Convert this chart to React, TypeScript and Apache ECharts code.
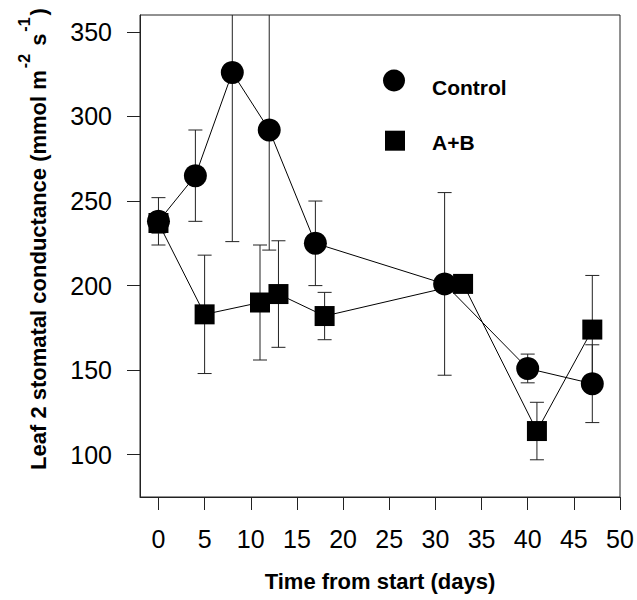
import { useEffect, useRef } from 'react';
import * as echarts from 'echarts';

// Leaf 2 stomatal conductance over time, mean ± error
const controlDays = [0, 4, 8, 12, 17, 31, 40, 47];
const controlMean = [238, 265, 326, 292, 225, 201, 151, 142];
const controlErr = [14, 27, 100, 71, 25, 54, 8.5, 23];

const abDays = [0, 5, 11, 13, 18, 33, 41, 47];
const abMean = [237, 183, 190, 195, 182, 201, 114, 174];
const abErr = [6, 35, 34, 31.5, 14, 3, 17, 32];

const xTicks = [0, 5, 10, 15, 20, 25, 30, 35, 40, 45, 50];
const yTicks = [100, 150, 200, 250, 300, 350];

const seriesNames = ['Control', 'A+B'];

const FONT = '"Liberation Sans", Arial, Helvetica, sans-serif';

function errorBars(name: string, days: number[], mean: number[], err: number[]) {
  return {
    type: 'custom',
    name,
    clip: true,
    z: 1,
    silent: true,
    data: days.map((d, i) => [d, mean[i] - err[i], mean[i] + err[i]]),
    encode: { x: 0, y: [1, 2] },
    renderItem: (_params: any, api: any) => {
      const x = api.value(0);
      const lo = api.coord([x, api.value(1)]);
      const hi = api.coord([x, api.value(2)]);
      const cap = 7;
      const style = { stroke: '#222', lineWidth: 1, fill: 'none' };
      return {
        type: 'group',
        children: [
          { type: 'line', shape: { x1: lo[0], y1: lo[1], x2: hi[0], y2: hi[1] }, style },
          { type: 'line', shape: { x1: lo[0] - cap, y1: lo[1], x2: lo[0] + cap, y2: lo[1] }, style },
          { type: 'line', shape: { x1: hi[0] - cap, y1: hi[1], x2: hi[0] + cap, y2: hi[1] }, style },
        ],
      };
    },
  };
}

function meanLine(name: string, days: number[], mean: number[], symbol: string, size: number) {
  return {
    type: 'line',
    name,
    z: 3,
    data: days.map((d, i) => [d, mean[i]]),
    symbol,
    symbolSize: size,
    showAllSymbol: true,
    itemStyle: { color: '#000' },
    lineStyle: { color: '#000', width: 1 },
  };
}

const legendLabel = (text: string, y: number) => ({
  type: 'text',
  x: 432,
  y,
  style: {
    text,
    fontFamily: FONT,
    fontSize: 21,
    fontWeight: 'bold',
    fill: '#000',
    align: 'left',
    verticalAlign: 'middle',
  },
});

export default function App() {
  const ref = useRef<HTMLDivElement>(null);

  useEffect(() => {
    if (!ref.current) return;
    const chart = echarts.init(ref.current, undefined, { renderer: 'svg' });
    chart.setOption({
      animation: false,
      backgroundColor: '#fff',
      textStyle: { fontFamily: FONT },
      grid: {
        left: 140,
        top: 15,
        width: 480,
        height: 482,
        show: true,
        borderColor: '#222',
        borderWidth: 1,
        backgroundColor: 'transparent',
      },
      xAxis: {
        type: 'value',
        min: -2,
        max: 50,
        name: 'Time from start (days)',
        nameLocation: 'middle',
        nameGap: 73,
        nameTextStyle: { fontFamily: FONT, fontSize: 22, fontWeight: 'bold', color: '#000' },
        axisLine: { show: true, onZero: false, lineStyle: { color: '#222', width: 1 } },
        axisTick: { show: true, length: 13, customValues: xTicks, lineStyle: { color: '#222' } },
        axisLabel: { customValues: xTicks, margin: 29, fontFamily: FONT, fontSize: 25, color: '#000' },
        splitLine: { show: false },
      },
      yAxis: {
        type: 'value',
        min: 75,
        max: 360,
        axisLine: { show: true, onZero: false, lineStyle: { color: '#222', width: 1 } },
        axisTick: { show: true, length: 13, customValues: yTicks, lineStyle: { color: '#222' } },
        axisLabel: { customValues: yTicks, margin: 28, fontFamily: FONT, fontSize: 25, color: '#000' },
        splitLine: { show: false },
      },
      graphic: [
        {
          type: 'text',
          x: 38,
          y: 239,
          rotation: Math.PI / 2,
          style: {
            text: '{m|Leaf 2 stomatal conductance (mmol m}{s|-2}{m| s}{s|-1}{m|)}',
            align: 'center',
            verticalAlign: 'middle',
            fill: '#000',
            rich: {
              m: { fontFamily: FONT, fontSize: 22, fontWeight: 'bold', lineHeight: 44, verticalAlign: 'middle', fill: '#000' },
              s: { fontFamily: FONT, fontSize: 16, fontWeight: 'bold', lineHeight: 16, verticalAlign: 'top', padding: [0, 2, 0, 2], fill: '#000' },
            },
          },
        },
        // key
        { type: 'circle', shape: { cx: 394, cy: 80.5, r: 11 }, style: { fill: '#000' } },
        legendLabel(seriesNames[0], 87.5),
        { type: 'rect', shape: { x: 385, y: 130.7, width: 20, height: 20 }, style: { fill: '#000' } },
        legendLabel(seriesNames[1], 142.5),
      ],
      series: [
        errorBars('Control error', controlDays, controlMean, controlErr),
        errorBars('A+B error', abDays, abMean, abErr),
        meanLine(seriesNames[0], controlDays, controlMean, 'circle', 23),
        meanLine(seriesNames[1], abDays, abMean, 'rect', 20),
      ],
    });
    return () => chart.dispose();
  }, []);

  return <div ref={ref} style={{ position: 'absolute', left: 0, top: 0, width: 637, height: 600 }} />;
}
